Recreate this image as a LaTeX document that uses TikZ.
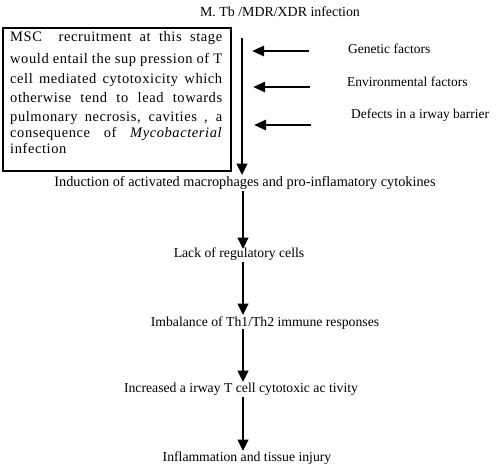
\documentclass[tikz,border=0pt]{standalone}
\usepackage{fontspec}
\setmainfont{Liberation Serif}
\newfontfamily\boxfont{Liberation Serif}[LetterSpace=4]
\usetikzlibrary{arrows.meta}
\begin{document}
\begin{tikzpicture}[x=1pt,y=-1pt,
  lbl/.style={inner sep=1pt,font=\fontsize{13.7}{15}\selectfont,text height=9pt,text depth=3pt},
  boxline/.style={inner sep=0pt,anchor=west,font=\boxfont\fontsize{14.5}{15}\selectfont,text height=9pt,text depth=3pt},
  flow/.style={line width=2.7pt,-{Triangle[width=10.5pt,length=11.5pt]}},
  side/.style={line width=2.7pt,-{Triangle[width=10pt,length=12pt]}}]
\useasboundingbox (0,0) rectangle (500,469);
\node[lbl,font=\fontsize{13.9}{15}\selectfont] (title) at (280,13) {M. Tb /MDR/XDR infection};
\node[draw,line width=2pt,minimum width=228pt,minimum height=143pt,anchor=north west,inner sep=0pt] (box) at (2,27) {};
\node[boxline] (l1) at (10,38) {\makebox[212pt][s]{MSC\ \ recruitment at this stage}};
\node[boxline] (l2) at (10,60) {\makebox[212pt][s]{would entail the sup pression of T}};
\node[boxline] (l3) at (10,80) {\makebox[212pt][s]{cell mediated cytotoxicity which}};
\node[boxline] (l4) at (10,99) {\makebox[212pt][s]{otherwise tend to lead towards}};
\node[boxline] (l5) at (10,118) {\makebox[212pt][s]{pulmonary necrosis, cavities , a}};
\node[boxline] (l6) at (10,134) {\makebox[212pt][s]{consequence of \textit{Mycobacterial}}};
\node[boxline] (l7) at (10,150) {infection};
\node[lbl,anchor=west,font=\fontsize{13.5}{15}\selectfont] (gen) at (347,50) {Genetic factors};
\node[lbl,anchor=west,font=\fontsize{13.5}{15}\selectfont] (env) at (346,83) {Environmental factors};
\node[lbl,anchor=west,font=\fontsize{13.5}{15}\selectfont] (def) at (350,115) {Defects in a irway barrier};
\node[lbl,font=\fontsize{14.3}{15}\selectfont] (ind) at (245,183) {Induction of activated macrophages and pro-inflamatory cytokines};
\node[lbl] (lack) at (239,254) {Lack of regulatory cells};
\node[lbl] (imb) at (265,323) {Imbalance of Th1/Th2 immune responses};
\node[lbl] (inc) at (241,389) {Increased a irway T cell cytotoxic ac tivity};
\node[lbl] (infl) at (247,458) {Inflammation and tissue injury};
\coordinate (top) at (242,38);
\coordinate (g1) at (309,51);
\coordinate (g1e) at (252,51);
\coordinate (g2) at (310,87);
\coordinate (g2e) at (253,87);
\coordinate (g3) at (311,125);
\coordinate (g3e) at (254,125);
\coordinate (a2s) at (243,191);
\coordinate (a3s) at (243,262);
\coordinate (a4s) at (243,329);
\coordinate (a5s) at (243,397);
\draw[flow] (top) -- (242,175);
\draw[side] (g1) -- (g1e);
\draw[side] (g2) -- (g2e);
\draw[side] (g3) -- (g3e);
\draw[flow] (a2s) -- (243,249);
\draw[flow] (a3s) -- (243,315);
\draw[flow] (a4s) -- (243,382);
\draw[flow] (a5s) -- (243,451);
\end{tikzpicture}
\end{document}
